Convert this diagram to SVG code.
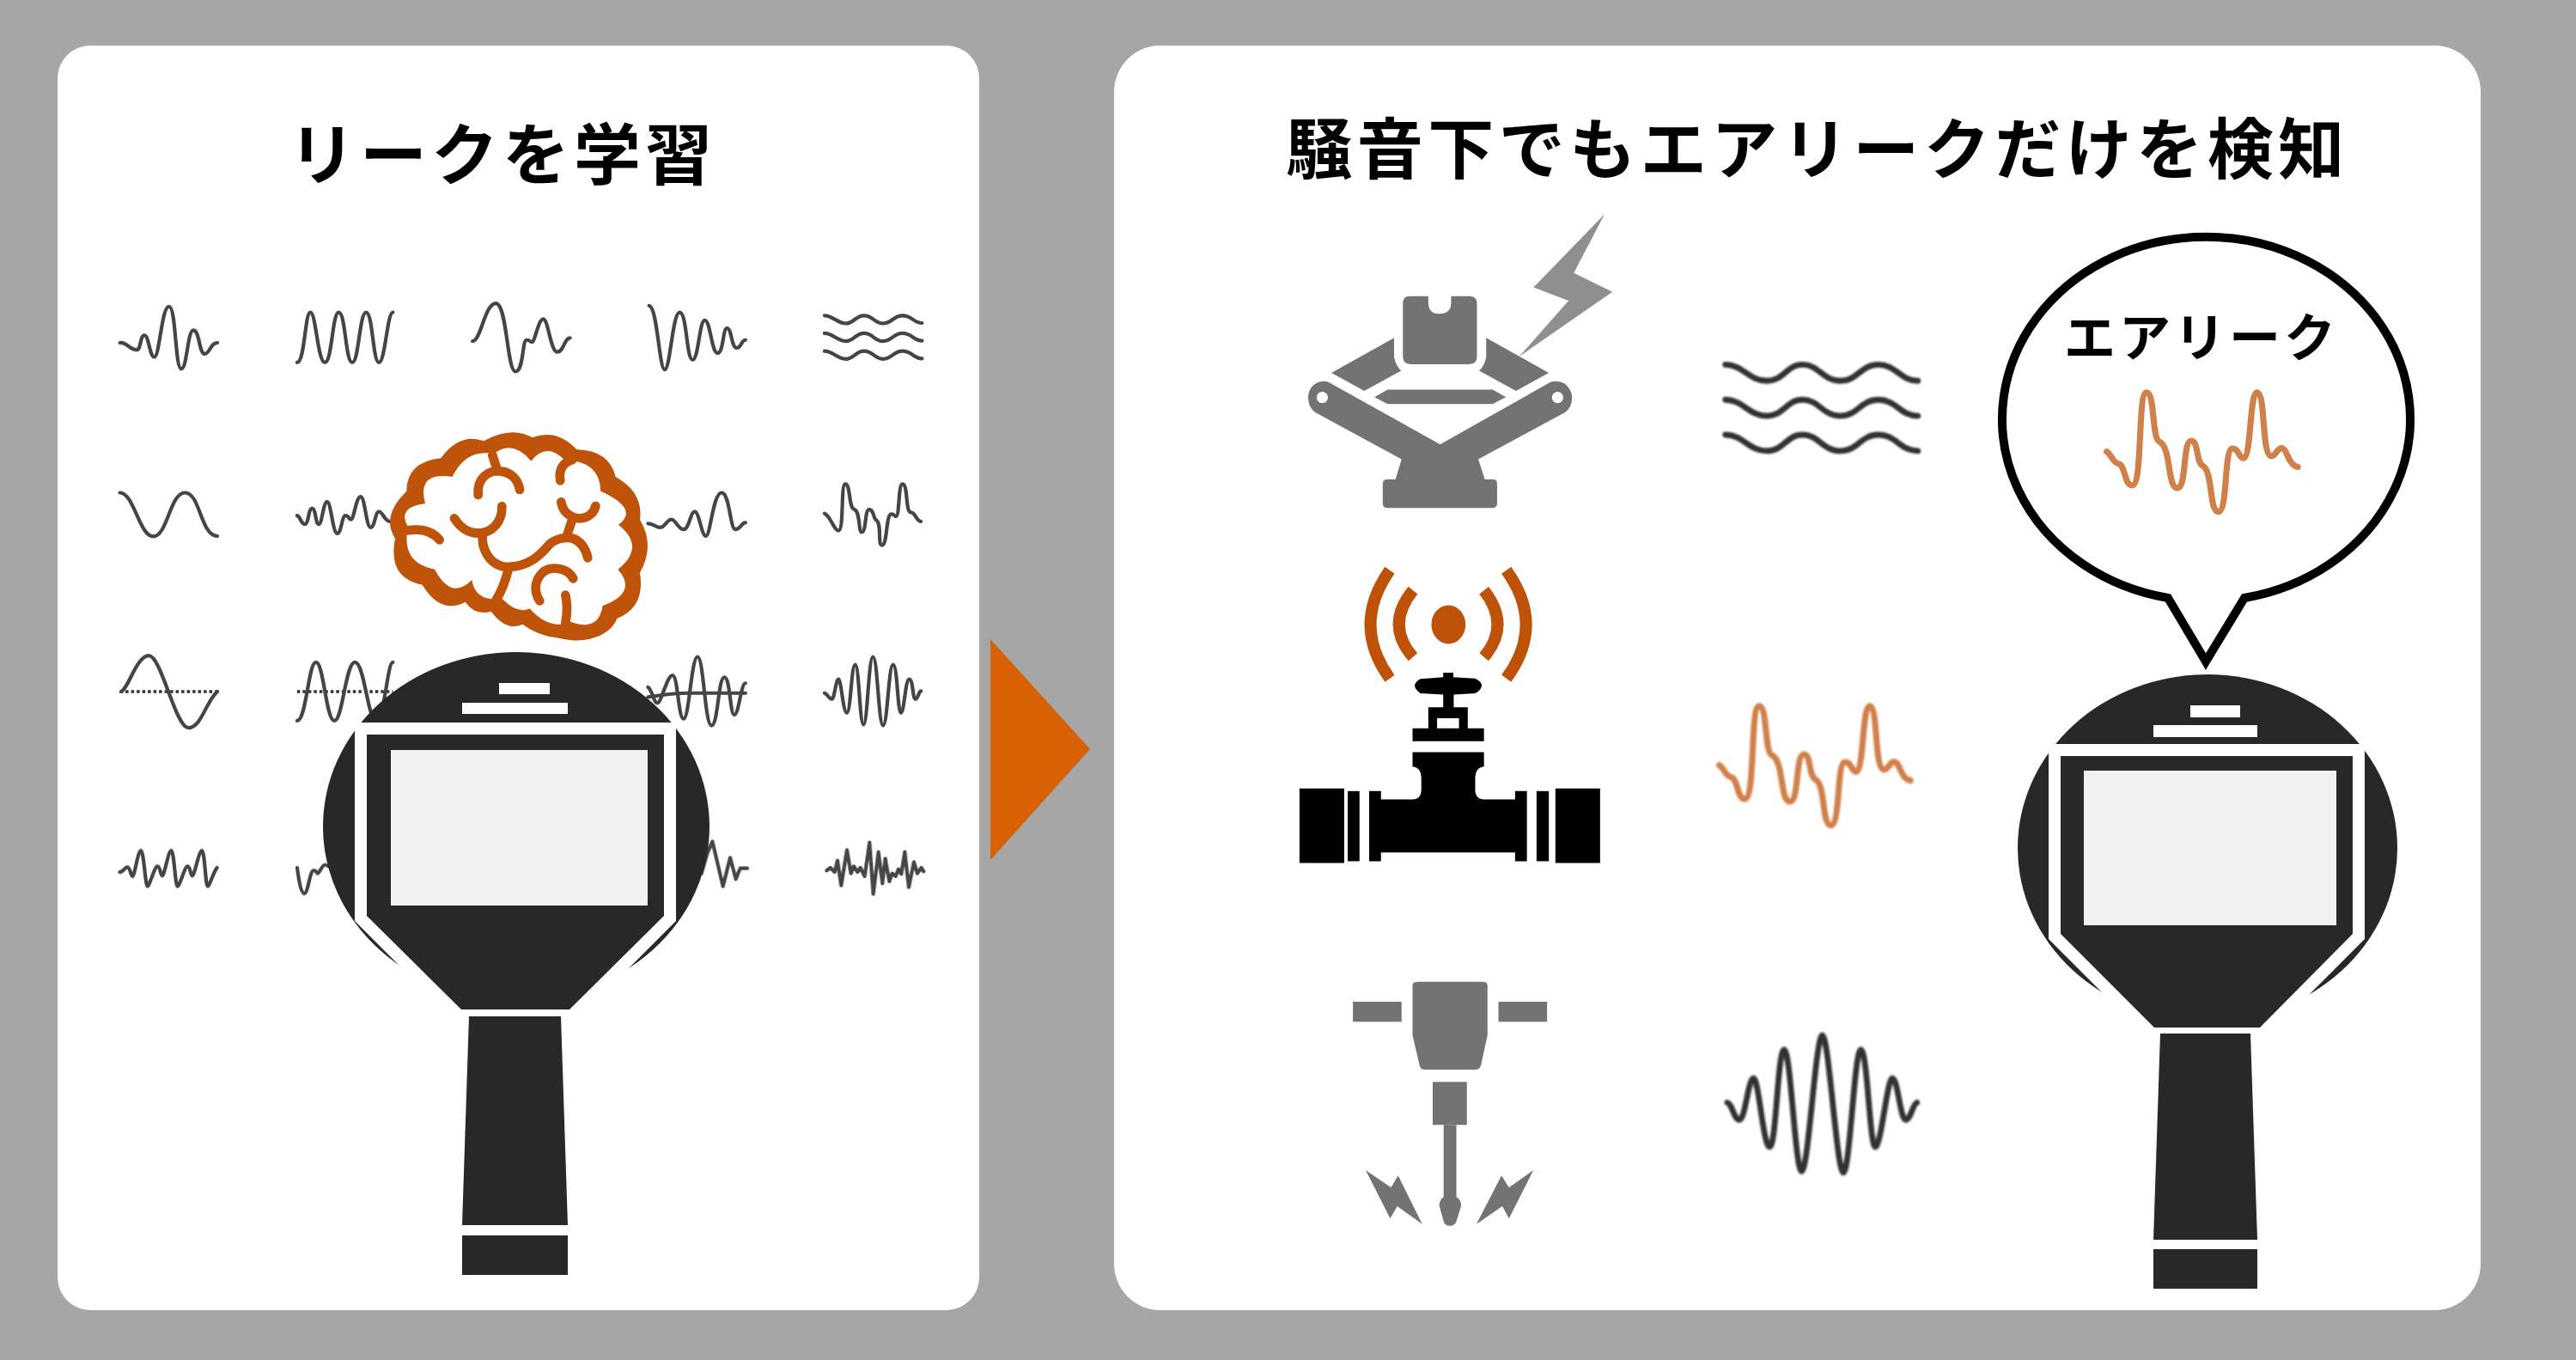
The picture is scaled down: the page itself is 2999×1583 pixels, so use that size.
<svg xmlns="http://www.w3.org/2000/svg" width="2999" height="1583" viewBox="0 0 2999 1583">
<defs>
<style>
.dk{fill:#282828}
.wh{fill:#fff}
.sc{fill:#f1f1f1}
.w{fill:none;stroke:#444;stroke-width:4.2;stroke-linecap:round;stroke-linejoin:round;vector-effect:non-scaling-stroke}
.d{fill:none;stroke:#333;stroke-width:3.5;stroke-dasharray:3.5 3;vector-effect:non-scaling-stroke}
.br{fill:none;stroke:#bf5309;stroke-width:32;stroke-linecap:round;stroke-linejoin:round}
.gr{fill:#737373}
.or{fill:none;stroke:#bd5208;stroke-width:27}
.big{fill:none;stroke:#333;stroke-width:13.5;stroke-linecap:round;stroke-linejoin:round}
.leak{fill:none;stroke:#d08048;stroke-width:14;stroke-linecap:round;stroke-linejoin:round}
text{font-family:"Noto Sans CJK JP","Noto Sans",sans-serif;font-weight:700;fill:#000;text-anchor:middle}
</style>
<filter id="soft" x="-10%" y="-10%" width="120%" height="120%"><feGaussianBlur stdDeviation="0.6"/></filter>
<filter id="soft2" x="-10%" y="-10%" width="120%" height="120%"><feGaussianBlur stdDeviation="1"/></filter>
<path id="leakwave" class="leak" d="M1042,1295 C1052,1300 1056,1320 1068,1322 C1085,1325 1082,1372 1100,1372 C1125,1372 1112,1160 1133,1160 C1152,1160 1145,1265 1162,1272 C1190,1285 1180,1378 1203,1378 C1225,1378 1215,1270 1235,1270 C1252,1270 1245,1320 1262,1328 C1285,1340 1275,1432 1297,1432 C1318,1432 1310,1290 1328,1288 C1342,1285 1345,1312 1355,1310 C1372,1305 1368,1160 1385,1160 C1405,1160 1395,1305 1418,1305 C1428,1305 1432,1285 1442,1287 C1455,1290 1455,1325 1478,1330"/>
</defs>
<rect width="2999" height="1583" fill="#a6a6a6"/>
<rect id="panel-left" x="67" y="53" width="1073" height="1472" rx="38" fill="#fff"/>
<rect id="panel-right" x="1297" y="53" width="1591" height="1472" rx="54" fill="#fff"/>
<polygon id="arrow" points="1153,744 1269,872 1153,1001" fill="#d86103"/>
<text id="title-left" x="585" y="209" font-size="78" letter-spacing="5">リークを学習</text>
<text id="title-right" x="2116" y="202" font-size="77" letter-spacing="5.5">騒音下でもエアリークだけを検知</text>

<g id="waves-left" filter="url(#soft)">
<g transform="matrix(.6485 0 0 .4592 100.7 320)">
<path class="w" d="M60,172 C72,170 78,190 90,190 C98,190 96,153 104,153 S113,208 122,208 S135,80 148,80 S159,238 170,238 S181,140 192,140 S202,200 212,200 S222,172 235,172"/>
<path class="w" d="M378,222 C392,222 392,95 402,95 S415,222 428,222 S441,95 453,95 S465,222 477,222 S490,95 502,95 S514,222 525,222 S540,95 550,95"/>
<path class="w" d="M693,168 C708,168 715,72 735,72 S755,245 770,245 S782,165 790,165 S795,170 800,170 S811,112 820,112 S833,195 845,195 S858,160 868,160"/>
<path class="w" d="M1010,78 C1025,80 1028,240 1038,240 S1052,95 1065,95 S1077,215 1088,215 S1100,115 1110,115 S1122,198 1133,198 S1142,135 1150,135 S1158,185 1167,185 S1175,165 1183,165"/>
<path class="w" d="M1325,103 C1340,103 1348,123 1363,123 S1380,103 1396,103 S1414,123 1430,123 S1448,103 1465,103 S1485,122 1500,122"/>
<path class="w" d="M1325,148 C1340,148 1348,168 1363,168 S1380,148 1396,148 S1414,168 1430,168 S1448,148 1465,148 S1485,167 1500,167"/>
<path class="w" d="M1325,193 C1340,193 1348,213 1363,213 S1380,193 1396,193 S1414,213 1430,213 S1448,193 1465,193 S1485,212 1500,212"/>
<path class="w" d="M60,552 C85,552 95,663 120,663 S150,552 177,552 S205,662 235,662"/>
<path class="w" d="M378,610 C384,612 385,632 392,632 S398,592 405,592 S411,632 417,632 S425,575 432,575 S442,655 450,655 S458,610 465,610 S470,620 475,620 S484,562 492,562 S502,640 510,640 S518,600 525,600 S535,625 545,625"/>
<path class="w" d="M1008,630 C1018,630 1022,640 1030,640 S1042,620 1050,620 S1062,645 1072,645 S1084,600 1092,600 S1104,662 1112,662 S1125,552 1140,552 S1155,645 1165,645 S1175,628 1183,628"/>
<path class="w" d="M1325,605 C1335,610 1342,648 1350,648 C1360,648 1354,530 1362,530 C1372,530 1368,590 1378,594 C1390,600 1385,652 1392,652 C1400,652 1397,595 1405,595 C1414,595 1412,618 1418,622 C1428,630 1420,685 1428,685 C1438,685 1435,606 1445,606 C1450,606 1450,612 1453,612 C1460,612 1457,530 1465,530 C1475,530 1470,602 1480,602 C1488,602 1490,625 1498,625"/>
<path class="d" d="M60,1056 H235"/>
<path class="w" d="M62,1056 C75,1050 90,965 112,965 S160,1148 183,1148 S215,1080 235,1056"/>
<path class="d" d="M378,1056 H550"/>
<path class="w" d="M378,1130 C395,1130 398,982 412,982 S430,1130 445,1130 S465,982 482,982 S505,1130 520,1130 S540,982 550,982"/>
<path class="w" d="M1008,1045 C1015,1050 1018,1085 1025,1085 S1042,1015 1052,1015 S1062,1125 1072,1125 S1086,968 1097,968 S1110,1142 1122,1142 S1134,1020 1145,1020 S1155,1115 1163,1115 S1175,1035 1183,1035"/>
<path class="w" d="M1008,1070 C1030,1066 1050,1060 1080,1060 H1183"/>
<path class="w" d="M1325,1060 C1330,1062 1333,1075 1338,1075 S1345,1025 1350,1025 S1358,1110 1365,1110 S1373,988 1380,988 S1388,1140 1395,1140 S1404,968 1412,968 S1422,1142 1430,1142 S1440,988 1448,988 S1456,1110 1462,1110 S1470,1025 1477,1025 S1483,1075 1488,1075 S1494,1055 1498,1055"/>
</g>
<g transform="matrix(.3333 0 0 .3333 120 960)">
<path class="w" d="M58,165 C72,165 75,148 85,148 S96,180 103,180 S122,90 132,90 S148,215 155,215 S180,145 190,145 S200,178 207,178 S228,90 238,90 S252,215 260,215 S285,145 295,145 S305,178 312,178 S335,90 345,90 S358,215 365,215 S385,165 398,150"/>
<path class="w" d="M678,150 C682,180 690,240 703,240 S722,160 735,160 S745,170 750,170 S765,140 775,140 S790,150 800,150"/>
</g>
<g transform="matrix(.3333 0 0 .3333 780 960)">
<path class="w" d="M110,170 L130,100 L148,58 L185,215 L210,115 L230,190 L245,152 L270,152"/>
<path class="w" d="M547,160 L560,150 L575,165 L585,125 L598,212 L618,88 L632,170 L642,145 L655,165 L665,150 L680,180 L697,62 L710,242 L728,95 L742,205 L752,118 L766,198 L776,170 L788,180 L798,155 L808,172 L820,95 L834,218 L852,130 L864,170 L878,150 L886,163"/>
</g>
</g>

<g id="brain" transform="translate(440 490) scale(.33333)">
<path fill="#bf5309" d="M370,70 Q465,16 540,58 Q623,25 695,100 Q808,103 830,195 Q928,250 915,345 Q969,433 915,530 Q935,650 835,690 C815,745 730,785 625,757 Q560,750 505,710 Q450,737 395,665 Q340,682 305,632 Q220,678 155,572 Q33,549 60,410 Q10,333 100,245 Q100,143 220,130 Q285,40 370,70 Z"/>
<path fill="#fff" d="M405,115 Q470,63 535,140 Q588,73 650,135 Q776,140 778,245 Q915,307 840,362 Q937,440 838,518 Q909,599 785,645 Q770,737 675,702 Q598,732 530,655 Q488,676 435,622 Q339,632 328,555 Q257,628 198,518 Q79,496 105,370 Q65,301 165,288 Q135,175 260,195 Q308,95 405,115 Z"/>
<path class="br" d="M400,120 L418,175 M350,258 C345,200 385,172 425,175 C465,178 490,205 495,240 M433,298 C435,350 400,392 350,392 C315,392 285,370 267,340 M366,395 C360,440 385,505 450,510 C530,510 570,465 600,430 C625,408 660,405 680,410 C710,420 725,445 733,478 M680,340 L660,400 M640,283 C645,320 675,340 705,340 C735,340 755,320 760,297 M637,208 C630,170 645,145 680,135 M105,382 C150,375 190,385 215,415 M455,520 C445,560 435,590 410,630 M565,628 C540,590 550,550 580,525 C610,505 665,515 682,550 M655,608 C662,640 662,670 655,705"/>
</g>

<g id="device-left">
<ellipse class="dk" cx="601" cy="962" rx="225" ry="203"/>
<rect class="wh" x="581" y="795" width="59" height="13"/>
<rect class="wh" x="538" y="818" width="123" height="13"/>
<polygon class="wh" points="413,841 787,841 787,1072 670,1189 530,1189 413,1072"/>
<polygon class="dk" points="427,855 773,855 773,1066 663,1175 537,1175 427,1066"/>
<rect class="sc" x="455" y="873" width="299" height="181"/>
<polygon class="dk" points="546,1183 653,1183 661,1426 538,1426"/>
<rect class="dk" x="538" y="1438" width="123" height="46"/>
</g>

<g id="jack" transform="translate(1470 230) scale(.5102)">
<path class="gr" d="M335,225 H378 V240 Q378,265 403,265 Q430,265 430,240 V225 H472 Q489,225 489,242 V362 Q489,380 470,380 H338 Q320,380 320,362 V242 Q320,225 335,225 Z"/>
<path class="gr" d="M300,320 V365 Q305,385 316,395 L232,441 L157,400 Z M510,320 V365 Q505,385 494,395 L578,441 L653,400 Z"/>
<polygon class="gr" points="255,455 285,438 525,438 555,455 525,471 285,471"/>
<path class="gr" d="M152,422 L405,563 L655,422 Q672,415 690,425 Q706,440 706,456 Q706,478 690,490 L492,597 L507,643 H525 Q535,643 535,653 V698 Q535,708 525,708 H284 Q274,708 274,698 V653 Q274,643 284,643 H303 L317,597 L120,490 Q104,478 104,456 Q104,436 120,425 Q135,415 152,422 Z"/>
<circle class="wh" cx="136" cy="456" r="13"/>
<circle class="wh" cx="673" cy="456" r="13"/>
<polygon fill="#8f8f8f" points="780,38 710,172 798,215 585,363 698,235 618,205"/>
</g>

<g id="valve" transform="translate(1470 230) scale(.5102)">
<ellipse cx="424" cy="974" rx="39" ry="44" fill="#bd5208"/>
<path class="or" d="M343,896 Q279,975 343,1048 M505,896 Q567,975 505,1048 M290,850 Q202,975 290,1097 M556,850 Q646,975 556,1097"/>
<path fill-rule="evenodd" d="M412,1084 H435 V1094 L485,1097 Q500,1105 500,1113 Q498,1125 485,1131 L436,1134 V1163 H468 V1211 H505 V1240 H342 V1211 H378 V1163 H412 V1134 L360,1131 Q347,1122 347,1113 Q349,1103 360,1098 L412,1094 Z M398,1188 H448 V1211 H398 Z"/>
<path d="M342,1265 H505 V1298 Q485,1300 485,1325 V1350 Q485,1373 505,1373 H576 V1354 H603 V1514 H576 V1494 H270 V1514 H243 V1354 H270 V1373 H342 Q362,1373 362,1350 V1325 Q362,1300 342,1298 Z"/>
<rect x="84" y="1348" width="102" height="170"/>
<rect x="194" y="1354" width="27" height="160"/>
<rect x="625" y="1354" width="28" height="160"/>
<rect x="668" y="1348" width="102" height="170"/>
</g>

<g id="breaker" transform="matrix(.5102 0 0 .3333 1470 1050)">
<rect class="gr" x="206" y="348" width="111" height="70"/>
<rect class="gr" x="538" y="348" width="111" height="70"/>
<path class="gr" d="M342,290 Q342,278 355,278 H500 Q513,278 513,290 V465 L498,570 Q496,585 485,585 H370 Q360,585 358,570 L342,465 Z"/>
<rect class="gr" x="388" y="628" width="78" height="150"/>
<rect class="gr" x="413" y="778" width="29" height="262"/>
<path class="gr" d="M413,1030 H442 Q453,1040 453,1060 L442,1115 Q438,1130 427,1130 Q416,1130 413,1115 L403,1060 Q403,1040 413,1030 Z"/>
<polygon class="gr" points="235,936 293,997 309,955 364,1124 307,1062 291,1105"/>
<polygon class="gr" points="618,936 562,997 545,955 488,1124 547,1062 562,1105"/>
</g>

<g id="waves-right" filter="url(#soft2)">
<g transform="translate(1470 230) scale(.5102)">
<path class="big" d="M1056,381 C1095,381 1110,418 1150,418 S1195,381 1232,381 S1278,418 1318,418 S1365,381 1405,381 S1455,418 1495,418"/>
<path class="big" d="M1056,461 C1095,461 1110,498 1150,498 S1195,461 1232,461 S1278,498 1318,498 S1365,461 1405,461 S1455,498 1495,498"/>
<path class="big" d="M1056,541 C1095,541 1110,578 1150,578 S1195,541 1232,541 S1278,578 1318,578 S1365,541 1405,541 S1455,578 1495,578"/>
<use href="#leakwave"/>
</g>
<g transform="matrix(.5102 0 0 .3333 1470 1050)">
<path fill="none" stroke="#333" stroke-width="6.8" stroke-linecap="round" vector-effect="non-scaling-stroke" d="M1060,700 C1072,705 1075,760 1088,760 S1108,615 1120,615 S1142,855 1157,855 S1175,515 1190,515 S1215,940 1230,940 S1262,465 1277,465 S1310,945 1325,945 S1350,515 1365,515 S1385,855 1398,855 S1425,615 1437,615 S1455,760 1467,760 S1483,705 1493,700"/>
</g>
</g>

<g id="bubble">
<path d="M2524,696 A237.5,212 0 1 1 2613,696 L2568,770 Z" fill="#fff" stroke="#000" stroke-width="10"/>
<text x="2563" y="415" font-size="60" letter-spacing="4">エアリーク</text>
<g filter="url(#soft2)" transform="translate(1921 -135) scale(.5102)"><use href="#leakwave"/></g>
</g>

<g id="device-right">
<ellipse class="dk" cx="2570" cy="987" rx="221" ry="202"/>
<rect class="wh" x="2550" y="821" width="58" height="14"/>
<rect class="wh" x="2507" y="844" width="121" height="14"/>
<polygon class="wh" points="2385,866 2753,866 2753,1093 2640,1206 2498,1206 2385,1093"/>
<polygon class="dk" points="2399,880 2739,880 2739,1087 2631,1196 2508,1196 2399,1087"/>
<rect class="sc" x="2426" y="897" width="294" height="180"/>
<polygon class="dk" points="2515,1203 2620,1203 2628,1443 2507,1443"/>
<rect class="dk" x="2507" y="1454" width="121" height="46"/>
</g>
</svg>
